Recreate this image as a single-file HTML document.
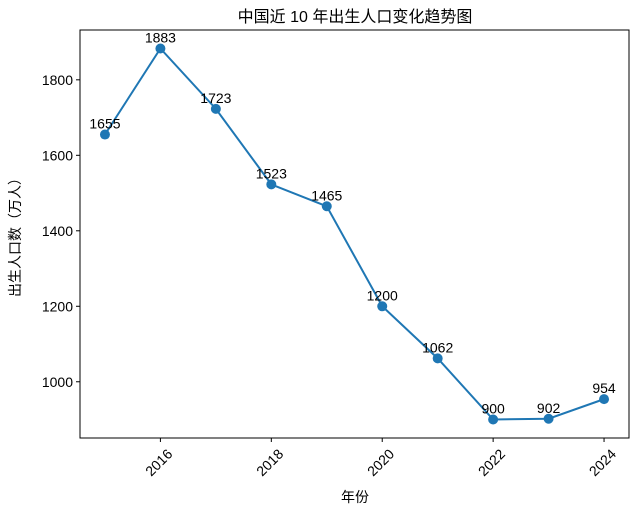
<!DOCTYPE html>
<html><head><meta charset="utf-8"><style>
body{margin:0;background:#fff}
text{font-family:"Liberation Sans","Noto Sans CJK SC",sans-serif;fill:#000}
</style></head><body>
<svg id="chart" width="640" height="516" xmlns="http://www.w3.org/2000/svg">
<text x="355" y="22" font-size="16" text-anchor="middle">中国近 10 年出生人口变化趋势图</text>
<text x="355" y="502" font-size="14" text-anchor="middle">年份</text>
<text transform="translate(20,234) rotate(-90)" font-size="14" text-anchor="middle">出生人口数（万人）</text>
<g id="plot"></g>
</svg>
<script>
const years=[2015,2016,2017,2018,2019,2020,2021,2022,2023,2024];
const births=[1655,1883,1723,1523,1465,1200,1062,900,902,954];
const xTicks=[2016,2018,2020,2022,2024];
const yTicks=[1000,1200,1400,1600,1800];
const L=80,R=629,T=30,B=438;
const xmin=2014.55,xmax=2024.45,ymin=851,ymax=1932;
const sx=v=>L+(v-xmin)/(xmax-xmin)*(R-L);
const sy=v=>B-(v-ymin)/(ymax-ymin)*(B-T);
const g=document.getElementById('plot');
const NS='http://www.w3.org/2000/svg';
function mk(t,a){const e=document.createElementNS(NS,t);for(const k in a)e.setAttribute(k,a[k]);g.appendChild(e);return e;}
const frame=mk('rect',{x:L,y:T,width:R-L,height:B-T,fill:'none',stroke:'#000','stroke-width':1});


xTicks.forEach(v=>{
  const tk=mk('line',{x1:sx(v),x2:sx(v),y1:B,y2:B+4,stroke:'#000'});
  
  
  const t=mk('text',{'font-size':14,'text-anchor':'end',transform:`translate(${sx(v)+5},${B+9}) rotate(-45)`,dy:'0.8em'});
  t.textContent=v;
  
  
});
yTicks.forEach(v=>{
  const tk=mk('line',{x1:L-4,x2:L,y1:sy(v),y2:sy(v),stroke:'#000'});
  
  
  const t=mk('text',{x:L-7,y:sy(v)+5,'font-size':14,'text-anchor':'end'});
  t.textContent=v;
  
  
});
const line=mk('polyline',{points:years.map((y,i)=>sx(y)+','+sy(births[i])).join(' '),fill:'none',stroke:'#1f77b4','stroke-width':2});


years.forEach((y,i)=>{
  const c=mk('circle',{cx:sx(y),cy:sy(births[i]),r:5,fill:'#1f77b4'});
  
  
  const t=mk('text',{x:sx(y),y:sy(births[i])-6,'font-size':14,'text-anchor':'middle'});
  t.textContent=births[i];
  
  
});
</script>
</body></html>
